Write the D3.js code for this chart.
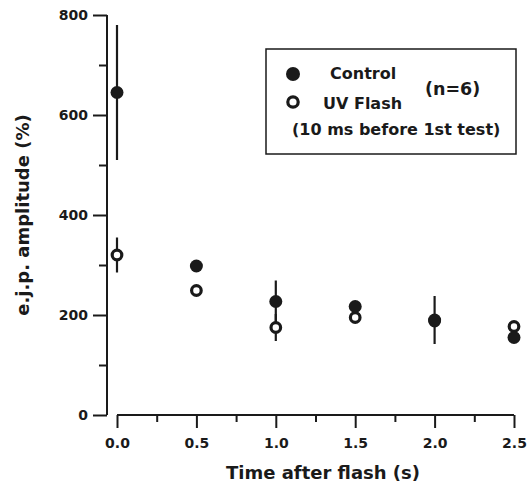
<!DOCTYPE html>
<html>
<head>
<meta charset="utf-8">
<script src="https://cdn.jsdelivr.net/npm/d3@7.8.5/dist/d3.min.js"></script>
<style>
  body { margin: 0; background: #fff; }
  svg text { font-family: "DejaVu Sans", sans-serif; font-weight: bold; fill: #1a1a1a; }
</style>
</head>
<body>
<div id="chart"></div>
<script>
// time after flash (s)
const times = [0.0, 0.5, 1.0, 1.5, 2.0, 2.5];
// e.j.p. amplitude (%)
const controlMean = [645, 298, 227, 217, 190, 155];
const controlErr = [135, 0, 42, 0, 48, 0];
const uvMean = [320, 249, 175, 195, 188, 177];
const uvErr = [35, 0, 27, 0, 0, 0];

const xTicks = [0, 0.5, 1.0, 1.5, 2.0, 2.5];
const xMinor = [0.25, 0.75, 1.25, 1.75, 2.25];
const yTicks = [0, 200, 400, 600, 800];
const yMinor = [100, 300, 500, 700];

const width = 528, height = 488;
const ink = "#1a1a1a";

const svg = d3.select("#chart").append("svg")
  .attr("width", width)
  .attr("height", height);

const x = d3.scaleLinear().domain([0, 2.5]).range([117, 514]);
const y = d3.scaleLinear().domain([0, 800]).range([415, 15]);

// y axis, offset to the left of the data area; minor ticks get shorter lines
const yAll = yTicks.concat(yMinor).sort((a, b) => a - b);
const yAxis = svg.append("g")
  .attr("class", "y-axis")
  .attr("transform", "translate(107,0)")
  .call(d3.axisLeft(y).tickValues(yAll).tickSize(14).tickPadding(5)
    .tickFormat(d => yMinor.includes(d) ? "" : d3.format("d")(d)));
yAxis.selectAll(".tick line").attr("x2", d => yMinor.includes(d) ? -8 : -14);
yAxis.select(".domain").attr("d", `M0,${y(800)}V${y(0)}`);

// x axis, starts at 0.0 and hangs below
const xAll = xTicks.concat(xMinor).sort((a, b) => a - b);
const xAxis = svg.append("g")
  .attr("class", "x-axis")
  .attr("transform", "translate(0,415)")
  .call(d3.axisBottom(x).tickValues(xAll).tickSize(13).tickPadding(10)
    .tickFormat(d => xMinor.includes(d) ? "" : d3.format(".1f")(d)));
xAxis.selectAll(".tick line").attr("y2", d => xMinor.includes(d) ? 7 : 13);
xAxis.select(".domain").attr("d", `M${x(0)},0H${x(2.5)}`);

svg.selectAll(".domain").attr("stroke", ink).attr("stroke-width", 2);
svg.selectAll(".tick line").attr("stroke", ink).attr("stroke-width", 2);
svg.selectAll(".tick text").style("font-size", "14px").attr("fill", ink);

// error bars
const plot = svg.append("g");
function errBars(means, errs) {
  plot.selectAll(null)
    .data(times.map((t, i) => ({ t, m: means[i], e: errs[i] })).filter(d => d.e > 0))
    .enter().append("line")
    .attr("x1", d => x(d.t)).attr("x2", d => x(d.t))
    .attr("y1", d => y(d.m + d.e)).attr("y2", d => y(d.m - d.e))
    .attr("stroke", ink).attr("stroke-width", 2.2);
}
errBars(controlMean, controlErr);
errBars(uvMean, uvErr);

// UV flash: open circles
plot.selectAll(".uv")
  .data(times.map((t, i) => ({ t, v: uvMean[i] })))
  .enter().append("circle")
  .attr("class", "uv")
  .attr("cx", d => x(d.t)).attr("cy", d => y(d.v))
  .attr("r", 4.8)
  .attr("fill", "#fff").attr("stroke", ink).attr("stroke-width", 3.2);

// control: filled circles
plot.selectAll(".ctrl")
  .data(times.map((t, i) => ({ t, v: controlMean[i] })))
  .enter().append("circle")
  .attr("class", "ctrl")
  .attr("cx", d => x(d.t)).attr("cy", d => y(d.v))
  .attr("r", 6.5)
  .attr("fill", ink);

// axis titles
svg.append("text")
  .attr("x", 323).attr("y", 479)
  .attr("text-anchor", "middle")
  .style("font-size", "18px")
  .text("Time after flash (s)");

svg.append("text")
  .attr("transform", "translate(29,215) rotate(-90)")
  .attr("text-anchor", "middle")
  .style("font-size", "18px")
  .text("e.j.p. amplitude (%)");

// legend
const legend = svg.append("g");
legend.append("rect")
  .attr("x", 266).attr("y", 49).attr("width", 250).attr("height", 105)
  .attr("fill", "none").attr("stroke", ink).attr("stroke-width", 1.5);
legend.append("circle").attr("cx", 293).attr("cy", 74).attr("r", 7).attr("fill", ink);
legend.append("circle").attr("cx", 293).attr("cy", 102).attr("r", 5.2)
  .attr("fill", "#fff").attr("stroke", ink).attr("stroke-width", 3.2);
legend.append("text").attr("x", 330).attr("y", 79).style("font-size", "16px").text("Control");
legend.append("text").attr("x", 323).attr("y", 109).style("font-size", "16px").text("UV Flash");
legend.append("text").attr("x", 425).attr("y", 95).style("font-size", "17.5px").text("(n=6)");
legend.append("text").attr("x", 292).attr("y", 135).style("font-size", "16px").text("(10 ms before 1st test)");
</script>
</body>
</html>
